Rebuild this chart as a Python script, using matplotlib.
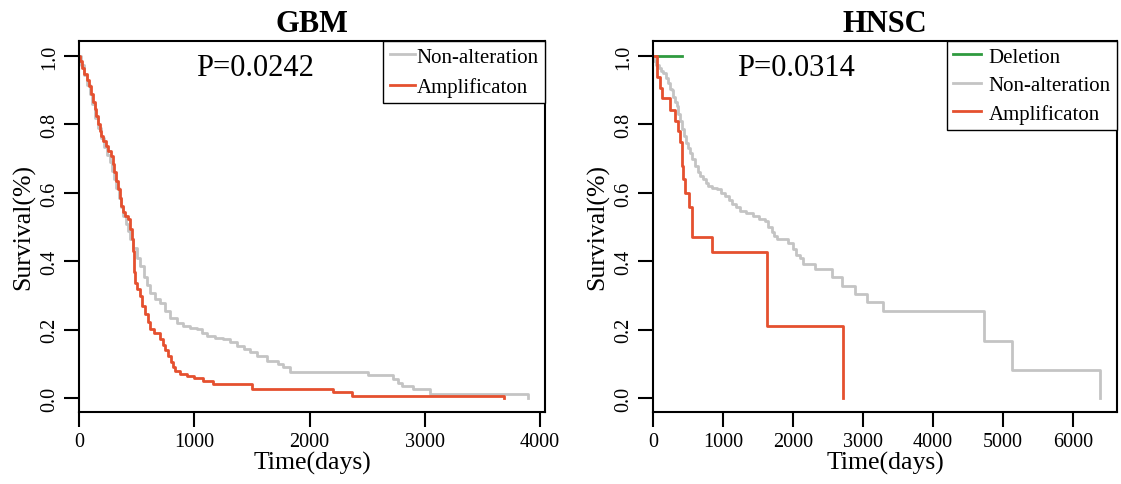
import matplotlib
matplotlib.use("Agg")
import matplotlib.pyplot as plt

# GBM curves (days, survival fraction)
gbm_amp_t = [0, 10, 25, 46, 65, 90, 105, 119, 135, 148, 165, 180, 191, 210, 234, 255, 278, 292,
             306, 322, 336, 352, 365, 379, 400, 423, 440, 457, 466, 474, 480, 486, 505, 529, 550,
             575, 600, 616, 650, 703, 725, 750, 775, 800, 815, 833, 880, 934, 1000, 1079, 1165,
             1499, 2204, 2366, 3690]
gbm_amp_s = [1.0, 0.985, 0.965, 0.947, 0.93, 0.913, 0.89, 0.865, 0.845, 0.825, 0.80, 0.78, 0.767,
             0.752, 0.738, 0.722, 0.708, 0.685, 0.660, 0.635, 0.611, 0.585, 0.563, 0.543, 0.533,
             0.523, 0.495, 0.465, 0.43, 0.40, 0.37, 0.338, 0.318, 0.30, 0.27, 0.245, 0.222, 0.202,
             0.19, 0.173, 0.155, 0.14, 0.124, 0.105, 0.09, 0.080, 0.072, 0.065, 0.058, 0.05, 0.041,
             0.026, 0.017, 0.007, 0.0]

gbm_non_t = [0, 20, 45, 70, 95, 115, 140, 165, 190, 215, 240, 265, 285, 305, 325, 345, 365, 385,
             405, 425, 445, 471, 500, 529, 560, 590, 616, 660, 703, 750, 790, 850, 906, 960, 1027,
             1070, 1108, 1180, 1252, 1310, 1368, 1430, 1484, 1542, 1628, 1729, 1773, 1830, 2510,
             2727, 2770, 2800, 2900, 3046, 3893]
gbm_non_s = [1.0, 0.975, 0.945, 0.915, 0.89, 0.86, 0.82, 0.79, 0.76, 0.735, 0.71, 0.69, 0.665,
             0.64, 0.615, 0.585, 0.56, 0.533, 0.51, 0.49, 0.465, 0.44, 0.41, 0.387, 0.355, 0.33,
             0.309, 0.29, 0.279, 0.255, 0.235, 0.22, 0.211, 0.205, 0.202, 0.19, 0.182, 0.177,
             0.173, 0.163, 0.153, 0.143, 0.134, 0.124, 0.109, 0.100, 0.090, 0.077, 0.067, 0.056,
             0.046, 0.036, 0.026, 0.012, 0.0]

# HNSC curves
hnsc_del_t = [0, 410]
hnsc_del_s = [1.0, 1.0]

hnsc_non_t = [0, 20, 43, 80, 110, 148, 180, 210, 240, 267, 290, 310, 338, 360, 380, 410, 440, 470,
              500, 529, 560, 600, 640, 671, 720, 760, 790, 850, 910, 970, 1029, 1080, 1124, 1180,
              1243, 1330, 1433, 1520, 1600, 1650, 1695, 1730, 1767, 1933, 2005, 2050, 2100, 2148,
              2314, 2552, 2695, 2886, 3052, 3290, 4733, 5124, 6386]
hnsc_non_s = [1.0, 0.985, 0.974, 0.965, 0.955, 0.95, 0.935, 0.92, 0.905, 0.9, 0.88, 0.865, 0.855,
              0.83, 0.81, 0.786, 0.765, 0.745, 0.73, 0.718, 0.70, 0.68, 0.66, 0.650, 0.64, 0.63,
              0.621, 0.615, 0.611, 0.60, 0.592, 0.58, 0.567, 0.558, 0.548, 0.54, 0.533, 0.525,
              0.519, 0.50, 0.485, 0.475, 0.465, 0.455, 0.436, 0.42, 0.411, 0.392, 0.377, 0.353,
              0.328, 0.304, 0.28, 0.255, 0.168, 0.083, 0.0]

hnsc_amp_t = [0, 52, 100, 129, 248, 314, 362, 385, 410, 430, 457, 519, 552, 848, 1633, 2720]
hnsc_amp_s = [1.0, 0.94, 0.908, 0.876, 0.842, 0.811, 0.78, 0.749, 0.68, 0.640, 0.601, 0.558,
              0.470, 0.426, 0.212, 0.0]

gbm_xticks = [0, 1000, 2000, 3000, 4000]
hnsc_xticks = [0, 1000, 2000, 3000, 4000, 5000, 6000]
yticks = [0.0, 0.2, 0.4, 0.6, 0.8, 1.0]

RED = "#e5502f"
GREY = "#c4c4c4"
GREEN = "#2f9a3f"

plt.rcParams["font.family"] = ["Liberation Serif", "DejaVu Serif"]


def style_axes(ax, xticks, xmax):
    ax.set_xlim(0, xmax)
    ax.set_ylim(-0.04, 1.044)
    ax.set_xticks(xticks)
    ax.set_xticklabels([str(t) for t in xticks])
    ax.set_yticks(yticks)
    ax.set_yticklabels(["%.1f" % v for v in yticks], rotation=90, va="center")
    for sp in ax.spines.values():
        sp.set_linewidth(1.5)
    ax.tick_params(direction="out", length=11, width=1.5, labelsize=14.5, pad=3.5)
    ax.set_xlabel("Time(days)", fontsize=18.5, labelpad=0)
    ax.set_ylabel("Survival(%)", fontsize=18.5, labelpad=3)


fig = plt.figure(figsize=(11.21, 4.85), dpi=100)

# left panel: GBM
ax1 = fig.add_axes([0.0705, 0.1485, 0.4157, 0.765])
ax1.step(gbm_non_t, gbm_non_s, where="post", color=GREY, lw=2, label="Non-alteration")
ax1.step(gbm_amp_t, gbm_amp_s, where="post", color=RED, lw=2, label="Amplificaton")
style_axes(ax1, gbm_xticks, 4043)
ax1.set_title("GBM", fontsize=22, fontweight="bold", pad=7)
ax1.text(1530, 0.944, "P=0.0242", fontsize=22, ha="center", va="baseline")
leg1 = ax1.legend(loc="upper right", fontsize=15, frameon=True, fancybox=False,
                  edgecolor="black", framealpha=1, borderaxespad=0, handlelength=1.2,
                  handletextpad=0.1, borderpad=0.3, labelspacing=0.5)
leg1.get_frame().set_linewidth(1.0)

# right panel: HNSC
ax2 = fig.add_axes([0.5825, 0.1485, 0.4139, 0.765])
ax2.step(hnsc_del_t, hnsc_del_s, where="post", color=GREEN, lw=2, label="Deletion")
ax2.step(hnsc_non_t, hnsc_non_s, where="post", color=GREY, lw=2, label="Non-alteration")
ax2.step(hnsc_amp_t, hnsc_amp_s, where="post", color=RED, lw=2, label="Amplificaton")
style_axes(ax2, hnsc_xticks, 6630)
ax2.set_title("HNSC", fontsize=22, fontweight="bold", pad=7)
ax2.text(2040, 0.944, "P=0.0314", fontsize=22, ha="center", va="baseline")
leg2 = ax2.legend(loc="upper right", fontsize=15, frameon=True, fancybox=False,
                  edgecolor="black", framealpha=1, borderaxespad=0, handlelength=1.35,
                  handletextpad=0.35, borderpad=0.3, labelspacing=0.42)
leg2.get_frame().set_linewidth(1.0)

fig.savefig("out.png", dpi=100)
plt.close(fig)
